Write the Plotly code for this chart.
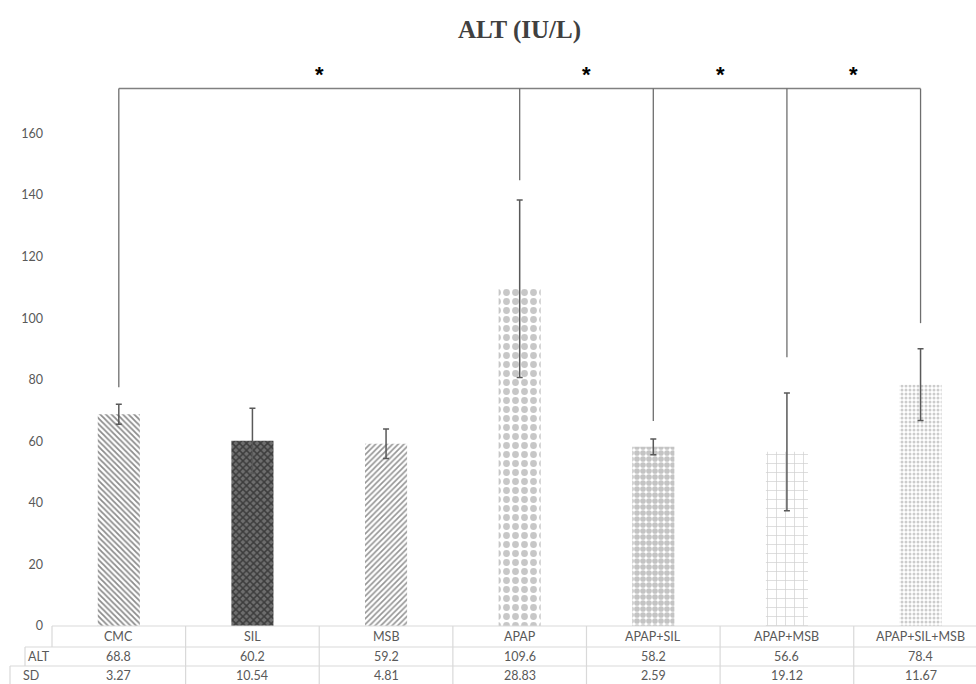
import plotly.graph_objects as go

categories = ["CMC", "SIL", "MSB", "APAP", "APAP+SIL", "APAP+MSB", "APAP+SIL+MSB"]
alt_values = [68.8, 60.2, 59.2, 109.6, 58.2, 56.6, 78.4]
sd_values = [3.27, 10.54, 4.81, 28.83, 2.59, 19.12, 11.67]
alt_labels = ["68.8", "60.2", "59.2", "109.6", "58.2", "56.6", "78.4"]
sd_labels = ["3.27", "10.54", "4.81", "28.83", "2.59", "19.12", "11.67"]
y_ticks = [0, 20, 40, 60, 80, 100, 120, 140, 160]

# significance bracket: common bar level and the drop of each leg (y units)
bracket_level = 174.6
bracket_legs = [0, 3, 4, 5, 6]
bracket_drop = [77.6, 144.8, 66.6, 87.3, 98.4]
star_level = 179.3

patterns = [
    dict(shape="\\", fgcolor="#1a1a1a", bgcolor="white", size=4, solidity=0.45),
    dict(shape="x", fgcolor="#0a0a0a", bgcolor="#6e6e6e", size=5, solidity=0.5),
    dict(shape="/", fgcolor="#2a2a2a", bgcolor="white", size=4, solidity=0.4),
    dict(shape=".", fgcolor="#8f8f8f", bgcolor="white", size=9, solidity=0.45),
    dict(shape=".", fgcolor="#8a8a8a", bgcolor="white", size=6, solidity=0.7),
    dict(shape="+", fgcolor="#a0a0a0", bgcolor="white", size=9, solidity=0.15),
    dict(shape=".", fgcolor="#999999", bgcolor="white", size=4, solidity=0.45),
]

W, H = 976, 684
ML, MR, MT, MB = 52, 0, 72, 58
XMIN, XMAX = -0.5, 6.415
YMAX = 180
pw = W - ML - MR
ph = H - MT - MB

def xp(v):
    return (v - XMIN) / (XMAX - XMIN)

def yp_px(py):
    return (H - MB - py) / ph

fig = go.Figure()
for i, c in enumerate(categories):
    fig.add_trace(go.Bar(
        x=[i], y=[alt_values[i]], width=0.315,
        marker=dict(color="white", line=dict(width=0), pattern=patterns[i]),
        error_y=dict(type="data", array=[sd_values[i]], visible=True,
                     color="#595959", thickness=1.5, width=3),
        showlegend=False, name=c,
    ))

shapes = []
line_col = "#6e6e6e"
shapes.append(dict(type="line", xref="x", yref="y", x0=bracket_legs[0], x1=bracket_legs[-1],
                   y0=bracket_level, y1=bracket_level, line=dict(color="#808080", width=1.5)))
for k, d in zip(bracket_legs, bracket_drop):
    shapes.append(dict(type="line", xref="x", yref="y", x0=k, x1=k,
                       y0=bracket_level, y1=d, line=dict(color=line_col, width=1.3)))

annotations = []
for a, b in zip(bracket_legs[:-1], bracket_legs[1:]):
    annotations.append(dict(x=(a + b) / 2, y=star_level, xref="x", yref="y", text="<b>*</b>",
                            showarrow=False, font=dict(family="Liberation Sans", size=22, color="black"),
                            yanchor="middle"))

# data table under the chart
grid = "#d9d9d9"
row_tops = [626, 647, 666, 685]
left_edges = [52, 25, 10]
for r in range(3):
    shapes.append(dict(type="line", xref="paper", yref="paper",
                       x0=(left_edges[r] - ML) / pw, x1=1.0,
                       y0=yp_px(row_tops[r]), y1=yp_px(row_tops[r]),
                       line=dict(color=grid, width=1.2)))
for r in range(3):
    shapes.append(dict(type="line", xref="paper", yref="paper",
                       x0=(left_edges[r] - ML) / pw, x1=(left_edges[r] - ML) / pw,
                       y0=yp_px(row_tops[r]), y1=yp_px(row_tops[r + 1]),
                       line=dict(color=grid, width=1.2)))
for i in range(1, len(categories)):
    xv = xp(i - 0.5)
    shapes.append(dict(type="line", xref="paper", yref="paper", x0=xv, x1=xv,
                       y0=yp_px(row_tops[0]), y1=yp_px(row_tops[3]),
                       line=dict(color=grid, width=1.2)))

tfont = dict(family="Lato", size=12.5, color="#595959")
row_rows = [categories, alt_labels, sd_labels]
for r, row in enumerate(row_rows):
    yc = yp_px((row_tops[r] + row_tops[r + 1]) / 2)
    for i, t in enumerate(row):
        annotations.append(dict(x=i, y=yc, xref="x", yref="paper", text=t, showarrow=False,
                                font=tfont, xanchor="center", yanchor="middle"))
for r, lab in [(1, "ALT"), (2, "SD")]:
    yc = yp_px((row_tops[r] + row_tops[r + 1]) / 2)
    xc = ((left_edges[r] + 52) / 2 - ML) / pw
    annotations.append(dict(x=xc, y=yc, xref="paper", yref="paper", text=lab, showarrow=False,
                            font=tfont, xanchor="center", yanchor="middle"))

annotations.append(dict(x=(519 - ML) / pw, y=yp_px(30), xref="paper", yref="paper",
                        text="<b>ALT (IU/L)</b>", showarrow=False,
                        font=dict(family="Liberation Serif", size=25, color="#404040"),
                        xanchor="center", yanchor="middle"))

fig.update_layout(
    width=W, height=H,
    margin=dict(l=ML, r=MR, t=MT, b=MB, pad=0),
    plot_bgcolor="white", paper_bgcolor="white",
    xaxis=dict(range=[XMIN, XMAX], showticklabels=False, showgrid=False, zeroline=False,
               showline=False, ticks="", fixedrange=True),
    yaxis=dict(range=[0, YMAX], tickvals=y_ticks, showgrid=False, zeroline=False,
               showline=False, ticks="", tickfont=tfont, ticklabelstandoff=8),
    shapes=shapes, annotations=annotations,
)

fig.write_html("out.html", config={"displayModeBar": False},
               post_script="document.body.style.margin='0';document.body.style.overflow='hidden';")
